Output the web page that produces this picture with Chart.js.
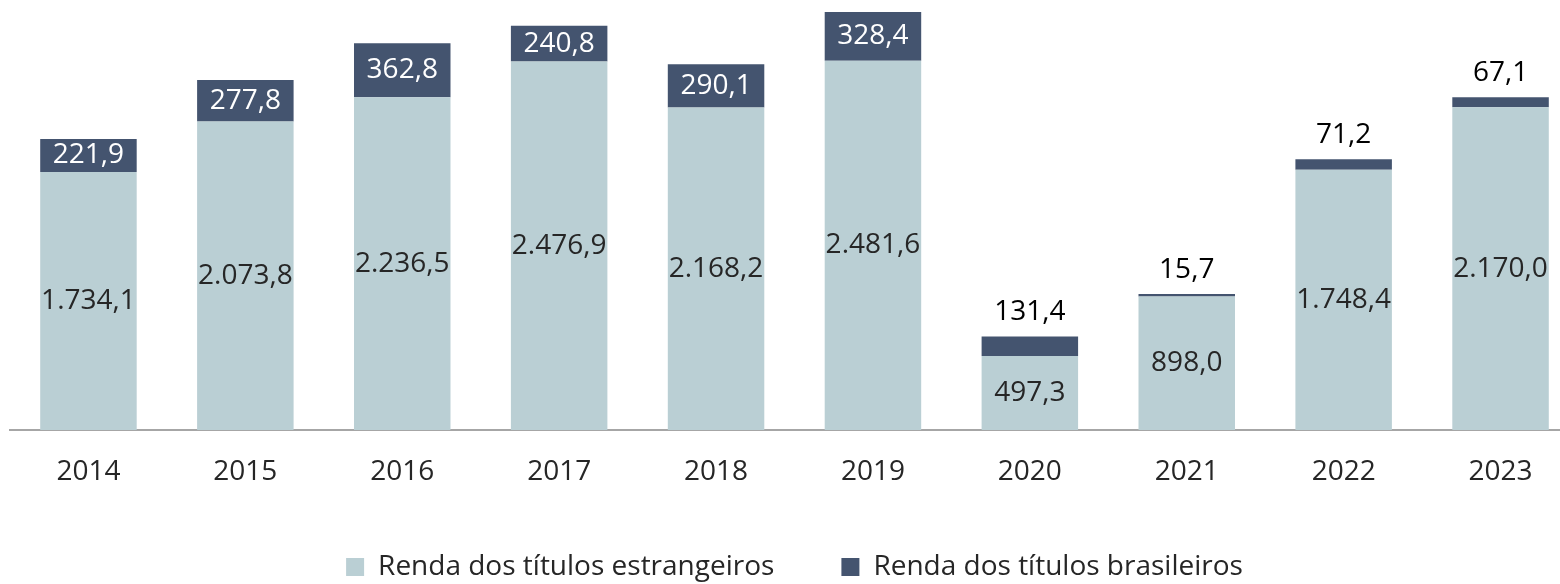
<!DOCTYPE html>
<html>
<head>
<meta charset="utf-8">
<script src="https://cdn.jsdelivr.net/npm/chart.js@4/dist/chart.umd.min.js"></script>
<style>
  html, body { margin: 0; padding: 0; background: #fff; overflow: hidden; }
  #wrap { position: relative; width: 1580px; height: 584px; }
</style>
</head>
<body>
<div id="wrap"><canvas id="c"></canvas></div>
<script>
const categories = ['2014','2015','2016','2017','2018','2019','2020','2021','2022','2023'];
const foreignIncome = [1734.1, 2073.8, 2236.5, 2476.9, 2168.2, 2481.6, 497.3, 898.0, 1748.4, 2170.0];
const brazilIncome = [221.9, 277.8, 362.8, 240.8, 290.1, 328.4, 131.4, 15.7, 71.2, 67.1];
const seriesNames = ['Renda dos títulos estrangeiros', 'Renda dos títulos brasileiros'];

const LIGHT = '#BACFD4';
const DARK = '#44546F';
const FONT = "'Open Sans', 'Noto Sans', sans-serif";
const FS = 28;

function fmt(v) {
  const parts = v.toFixed(1).split('.');
  const intPart = parts[0].replace(/\B(?=(\d{3})+(?!\d))/g, '.');
  return intPart + ',' + parts[1];
}

const labelPlugin = {
  id: 'barLabels',
  afterDatasetsDraw(chart) {
    const ctx = chart.ctx;
    ctx.save();
    ctx.font = FS + 'px ' + FONT;
    ctx.textAlign = 'center';
    ctx.textBaseline = 'middle';
    chart.data.datasets.forEach((ds, di) => {
      const meta = chart.getDatasetMeta(di);
      meta.data.forEach((bar, i) => {
        const v = ds.data[i];
        const top = Math.min(bar.y, bar.base);
        const bottom = Math.max(bar.y, bar.base);
        const h = bottom - top;
        if (di === 0) {
          ctx.fillStyle = '#262626';
          ctx.fillText(fmt(v), bar.x, (top + bottom) / 2);
        } else {
          if (h > 28) {
            ctx.fillStyle = '#ffffff';
            ctx.fillText(fmt(v), bar.x, (top + bottom) / 2);
          } else {
            ctx.fillStyle = '#000000';
            ctx.fillText(fmt(v), bar.x, top - 24);
          }
        }
      });
    });
    ctx.restore();
  }
};

new Chart(document.getElementById('c'), {
  type: 'bar',
  data: {
    labels: categories,
    datasets: [
      { label: seriesNames[0], data: foreignIncome, backgroundColor: LIGHT, borderWidth: 0,
        categoryPercentage: 1.0, barPercentage: 0.615 },
      { label: seriesNames[1], data: brazilIncome, backgroundColor: DARK, borderWidth: 0,
        categoryPercentage: 1.0, barPercentage: 0.615 }
    ]
  },
  options: {
    responsive: true,
    maintainAspectRatio: false,
    animation: false,
    layout: { padding: { left: 10, right: 1, top: 0, bottom: 0 } },
    scales: {
      x: {
        stacked: true,
        grid: { display: false, drawTicks: false },
        border: { display: true, color: '#A6A6A6', width: 2 },
        ticks: { color: '#262626', font: { family: FONT, size: FS }, padding: 25 },
        afterFit(scale) { scale.height = 56; }
      },
      y: {
        stacked: true,
        display: false,
        min: 0,
        max: 2890
      }
    },
    plugins: {
      legend: {
        position: 'bottom',
        maxHeight: 98,
        labels: {
          color: '#262626',
          font: { family: FONT, size: FS },
          boxWidth: 18,
          boxHeight: 18,
          padding: 67
        }
      },
      tooltip: { enabled: false }
    }
  },
  plugins: [labelPlugin]
});
</script>
</body>
</html>
